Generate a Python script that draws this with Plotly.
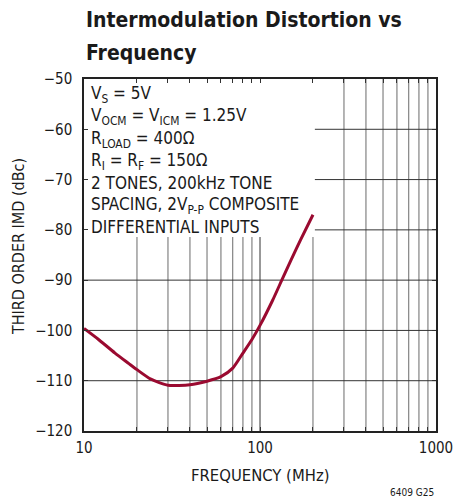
import plotly.graph_objects as go

# Data
freq_mhz = [10, 12, 15, 18, 20, 24, 30, 40, 50, 60, 70, 80, 90, 100, 118, 133, 150, 170, 200]
imd_dbc = [-99.6, -101.7, -104.5, -106.6, -107.8, -109.7, -110.9, -110.8, -110.1, -109.2,
           -107.5, -104.5, -101.8, -99.0, -94.0, -90.0, -86.0, -82.0, -77.0]

x_tickvals = [10, 20, 30, 40, 50, 60, 70, 80, 90, 100, 200, 300, 400, 500, 600, 700, 800, 900, 1000]
x_ticktext = ["10", "", "", "", "", "", "", "", "", "100", "", "", "", "", "", "", "", "", "1000"]
y_tickvals = [-120, -110, -100, -90, -80, -70, -60, -50]
y_ticktext = ["\u2212120", "\u2212110", "\u2212100", "\u221290", "\u221280", "\u221270", "\u221260", "\u221250"]

title_lines = ["Intermodulation Distortion vs", "Frequency"]
x_title = "FREQUENCY (MHz)"
y_title = "THIRD ORDER IMD (dBc)"
cond_lines = [
    "V<sub>S</sub> = 5V",
    "V<sub>OCM</sub> = V<sub>ICM</sub> = 1.25V",
    "R<sub>LOAD</sub> = 400\u03a9",
    "R<sub>I</sub> = R<sub>F</sub> = 150\u03a9",
    "2 TONES, 200kHz TONE",
    "SPACING, 2V<sub>P-P</sub> COMPOSITE",
    "DIFFERENTIAL INPUTS",
]
code_label = "6409 G25"

FONT = "DejaVu Sans Condensed, Liberation Sans Narrow, Arial Narrow, sans-serif"
TXT = "#1a1a1a"
W, H = 458, 499
# plot area in screen pixels: left 84, right 436, top 79, bottom 431
L, T = 84, 79
R, B = W - 436, H - 431
plot_w = W - L - R
plot_h = H - T - B


def py(p):
    # screen pixel row -> y data value
    return -120 + (431 - p) / plot_h * 70


def ppy(p):
    # screen pixel row -> paper y
    return (431 - p) / plot_h


def ppx(p):
    # screen pixel column -> paper x
    return (p - 84) / plot_w


fig = go.Figure()
fig.add_trace(go.Scatter(
    x=freq_mhz, y=imd_dbc, mode="lines",
    line=dict(color="#9a0a30", width=3, shape="spline", smoothing=0.6),
    hoverinfo="skip", showlegend=False,
))

grid_minor = [v for v in x_tickvals if v not in (10, 100, 1000)]
shapes = []
for v in grid_minor:
    shapes.append(dict(type="line", xref="x", yref="paper", x0=v, x1=v, y0=0, y1=1,
                       line=dict(color="#6a6a6a", width=1), layer="below"))
for v in [-110, -100, -90, -80, -70, -60]:
    shapes.append(dict(type="line", xref="paper", yref="y", x0=0, x1=1, y0=v, y1=v,
                       line=dict(color="#333333", width=1), layer="below"))
shapes.append(dict(type="line", xref="x", yref="paper", x0=100, x1=100, y0=0, y1=1,
                   line=dict(color="#333333", width=1), layer="below"))
# white box behind the conditions text
shapes.append(dict(type="rect", xref="x", yref="y", x0=10, x1=205, y0=py(237), y1=-50,
                   fillcolor="white", line=dict(width=0), layer="between"))

annotations = []
centers = [94, 116, 139, 161, 183, 205, 227]
for txt, c in zip(cond_lines, centers):
    annotations.append(dict(text=txt, xref="paper", yref="y", x=0, y=py(c), xshift=5,
                            xanchor="left", yanchor="middle", showarrow=False,
                            font=dict(family=FONT, size=17, color=TXT)))
# title lines
for txt, c in zip(title_lines, [20, 53]):
    annotations.append(dict(text="<b>" + txt + "</b>", xref="paper", yref="paper",
                            x=ppx(84), y=ppy(c), xanchor="left", yanchor="middle",
                            showarrow=False, font=dict(family=FONT, size=21, color=TXT)))
# axis titles
annotations.append(dict(text=x_title, xref="paper", yref="paper", x=0.5, y=ppy(475),
                        xanchor="center", yanchor="middle", showarrow=False,
                        font=dict(family=FONT, size=16.5, color=TXT)))
annotations.append(dict(text=y_title, xref="paper", yref="paper", x=ppx(18), y=ppy(247),
                        xanchor="center", yanchor="middle", textangle=-90, showarrow=False,
                        font=dict(family=FONT, size=16, color=TXT)))
annotations.append(dict(text=code_label, xref="paper", yref="paper", x=ppx(436), y=ppy(492),
                        xanchor="right", yanchor="middle", showarrow=False,
                        font=dict(family=FONT, size=10, color=TXT)))

fig.update_layout(
    width=W, height=H,
    margin=dict(l=L, r=R, t=T, b=B, autoexpand=False),
    paper_bgcolor="white", plot_bgcolor="white",
    font=dict(family=FONT, color=TXT),
    shapes=shapes, annotations=annotations,
    xaxis=dict(type="log", range=[1, 3], tickvals=x_tickvals, ticktext=x_ticktext,
               showgrid=False, zeroline=False, automargin=False,
               showline=True, linecolor="#222222", linewidth=1.5, mirror="ticks",
               ticks="inside", ticklen=4, tickcolor="#333333",
               ticklabelstandoff=2, ticklabeloverflow="allow",
               tickfont=dict(family=FONT, size=15, color=TXT)),
    yaxis=dict(range=[-120, -50], tickvals=y_tickvals, ticktext=y_ticktext,
               showgrid=False, zeroline=False, automargin=False,
               showline=True, linecolor="#222222", linewidth=1.5, mirror="ticks",
               ticks="inside", ticklen=4, tickcolor="#333333",
               ticklabelstandoff=7,
               tickfont=dict(family=FONT, size=15, color=TXT)),
)

fig.write_html("out.html", config={"displayModeBar": False},
               post_script="document.body.style.margin='0';document.body.style.overflow='hidden';")
